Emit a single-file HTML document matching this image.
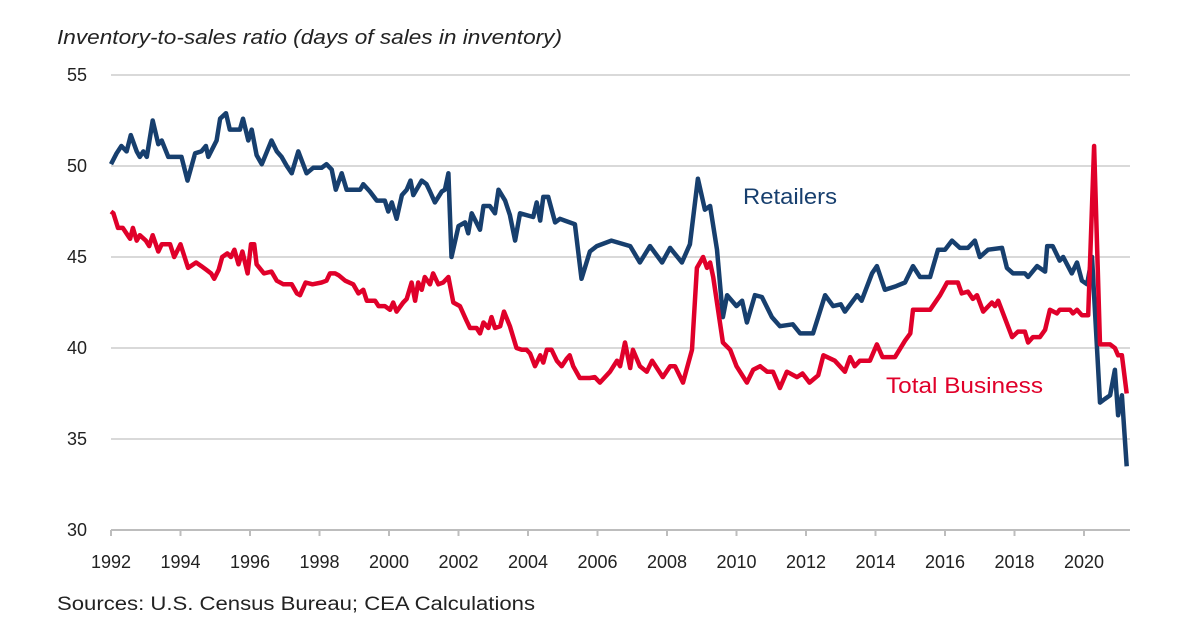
<!DOCTYPE html>
<html><head><meta charset="utf-8"><style>
body{margin:0;background:#fff;}
svg{display:block;font-family:"Liberation Sans",sans-serif;}
</style></head><body>
<svg id="chart" width="1202" height="632" viewBox="0 0 1202 632">
<text x="57" y="44" font-size="20" font-style="italic" fill="#222" textLength="505" lengthAdjust="spacingAndGlyphs">Inventory-to-sales ratio (days of sales in inventory)</text>
<g id="grid"></g>
<g id="yticks"></g>
<g id="xticks"></g>
<g id="series"></g>
<text x="743" y="204" font-size="22" fill="#173f6e" textLength="94" lengthAdjust="spacingAndGlyphs">Retailers</text>
<text x="886" y="393" font-size="22" fill="#e0002a" textLength="157" lengthAdjust="spacingAndGlyphs">Total Business</text>
<text x="57" y="610" font-size="19" fill="#222" textLength="478" lengthAdjust="spacingAndGlyphs">Sources: U.S. Census Bureau; CEA Calculations</text>
</svg>
<script>
const yTicks=[30,35,40,45,50,55];
const xTicks=[1992,1994,1996,1998,2000,2002,2004,2006,2008,2010,2012,2014,2016,2018,2020];
const retailYears=[1992.0,1992.16,1992.3,1992.45,1992.57,1992.74,1992.83,1992.93,1993.03,1993.2,1993.36,1993.46,1993.65,1994.03,1994.2,1994.42,1994.6,1994.73,1994.8,1995.04,1995.14,1995.31,1995.42,1995.71,1995.8,1995.95,1996.05,1996.19,1996.34,1996.62,1996.77,1996.91,1997.06,1997.2,1997.39,1997.63,1997.82,1998.06,1998.2,1998.35,1998.47,1998.64,1998.78,1999.17,1999.26,1999.45,1999.65,1999.88,1999.98,2000.08,2000.22,2000.37,2000.51,2000.62,2000.7,2000.94,2001.08,2001.18,2001.32,2001.52,2001.61,2001.71,2001.8,2002.0,2002.19,2002.28,2002.38,2002.62,2002.72,2002.9,2003.05,2003.15,2003.34,2003.48,2003.63,2003.77,2004.15,2004.25,2004.35,2004.44,2004.58,2004.78,2004.92,2005.06,2005.35,2005.54,2005.78,2005.98,2006.4,2006.94,2007.22,2007.51,2007.86,2008.09,2008.43,2008.66,2008.89,2009.09,2009.24,2009.44,2009.61,2009.73,2010.0,2010.16,2010.3,2010.53,2010.73,2011.02,2011.25,2011.62,2011.83,2012.2,2012.55,2012.78,2013.0,2013.12,2013.47,2013.6,2013.9,2014.04,2014.27,2014.6,2014.85,2015.08,2015.28,2015.57,2015.8,2016.0,2016.2,2016.43,2016.66,2016.86,2017.0,2017.24,2017.64,2017.78,2017.96,2018.3,2018.39,2018.65,2018.88,2018.94,2019.1,2019.3,2019.4,2019.65,2019.8,2019.94,2020.09,2020.23,2020.46,2020.6,2020.75,2020.89,2020.98,2021.09,2021.23];
const retailVals=[50.1,50.7,51.1,50.8,51.7,50.8,50.5,50.8,50.5,52.5,51.2,51.4,50.5,50.5,49.2,50.7,50.8,51.1,50.5,51.4,52.6,52.9,52.0,52.0,52.6,51.4,52.0,50.6,50.1,51.4,50.8,50.5,50.0,49.6,50.8,49.6,49.9,49.9,50.1,49.8,48.7,49.6,48.7,48.7,49.0,48.6,48.1,48.1,47.5,48.0,47.1,48.4,48.7,49.2,48.4,49.2,49.0,48.6,48.0,48.6,48.7,49.6,45.0,46.7,46.9,46.3,47.4,46.5,47.8,47.8,47.4,48.7,48.1,47.3,45.9,47.4,47.2,48.0,47.0,48.3,48.3,46.9,47.1,47.0,46.8,43.8,45.3,45.6,45.9,45.6,44.7,45.6,44.7,45.5,44.7,45.7,49.3,47.6,47.8,45.4,41.7,42.9,42.3,42.6,41.4,42.9,42.8,41.7,41.2,41.3,40.8,40.8,42.9,42.3,42.4,42.0,42.9,42.6,44.1,44.5,43.2,43.4,43.6,44.5,43.9,43.9,45.4,45.4,45.9,45.5,45.5,45.9,45.0,45.4,45.5,44.4,44.1,44.1,43.9,44.5,44.2,45.6,45.6,44.8,45.0,44.1,44.7,43.7,43.5,45.0,37.0,37.2,37.4,38.8,36.3,37.4,33.5];
const totalYears=[1992.0,1992.07,1992.2,1992.34,1992.55,1992.63,1992.74,1992.83,1993.0,1993.1,1993.2,1993.36,1993.46,1993.7,1993.82,1994.0,1994.22,1994.45,1994.6,1994.74,1994.88,1994.97,1995.1,1995.2,1995.35,1995.45,1995.55,1995.67,1995.78,1995.93,1996.03,1996.12,1996.19,1996.4,1996.62,1996.77,1996.96,1997.2,1997.35,1997.44,1997.6,1997.8,1998.06,1998.2,1998.3,1998.45,1998.55,1998.74,1998.97,1999.12,1999.26,1999.36,1999.6,1999.7,1999.88,2000.03,2000.12,2000.22,2000.41,2000.51,2000.65,2000.75,2000.84,2000.94,2001.03,2001.18,2001.27,2001.42,2001.56,2001.71,2001.85,2002.04,2002.23,2002.33,2002.52,2002.62,2002.72,2002.86,2002.95,2003.05,2003.2,2003.31,2003.48,2003.67,2003.82,2003.96,2004.06,2004.2,2004.35,2004.44,2004.54,2004.68,2004.83,2004.97,2005.11,2005.2,2005.3,2005.49,2005.78,2005.92,2006.07,2006.36,2006.56,2006.65,2006.79,2006.94,2007.02,2007.22,2007.42,2007.57,2007.88,2008.09,2008.23,2008.46,2008.72,2008.86,2009.04,2009.15,2009.24,2009.33,2009.61,2009.82,2010.0,2010.3,2010.48,2010.68,2010.88,2011.05,2011.25,2011.45,2011.74,2011.9,2012.1,2012.35,2012.5,2012.83,2013.12,2013.27,2013.4,2013.55,2013.84,2014.04,2014.2,2014.56,2014.85,2015.0,2015.08,2015.57,2015.86,2016.06,2016.37,2016.48,2016.66,2016.8,2016.92,2017.1,2017.35,2017.44,2017.53,2017.93,2018.1,2018.3,2018.39,2018.53,2018.73,2018.88,2019.02,2019.22,2019.3,2019.6,2019.68,2019.8,2019.94,2020.12,2020.29,2020.46,2020.6,2020.75,2020.89,2020.98,2021.09,2021.23];
const totalVals=[47.5,47.4,46.6,46.6,46.0,46.6,45.9,46.2,45.9,45.6,46.2,45.3,45.7,45.7,45.0,45.7,44.4,44.7,44.5,44.3,44.1,43.8,44.3,45.0,45.2,45.0,45.4,44.6,45.3,44.1,45.7,45.7,44.6,44.1,44.2,43.7,43.5,43.5,43.0,42.9,43.6,43.5,43.6,43.7,44.1,44.1,44.0,43.7,43.5,43.0,43.2,42.6,42.6,42.3,42.3,42.1,42.5,42.0,42.5,42.7,43.6,42.6,43.6,43.2,43.9,43.5,44.1,43.5,43.6,43.9,42.5,42.3,41.5,41.1,41.1,40.8,41.4,41.1,41.7,41.1,41.2,42.0,41.2,40.0,39.9,39.9,39.7,39.0,39.6,39.2,39.9,39.9,39.3,39.0,39.4,39.6,39.0,38.35,38.35,38.4,38.1,38.7,39.3,39.0,40.3,38.9,39.9,39.0,38.7,39.3,38.4,39.0,39.0,38.1,39.9,44.4,45.0,44.4,44.7,43.9,40.3,39.9,39.0,38.1,38.8,39.0,38.7,38.7,37.8,38.7,38.4,38.6,38.1,38.5,39.6,39.3,38.7,39.5,39.0,39.3,39.3,40.2,39.5,39.5,40.4,40.8,42.1,42.1,42.9,43.6,43.6,43.0,43.1,42.7,42.9,42.0,42.5,42.3,42.6,40.6,40.9,40.9,40.3,40.6,40.6,41.0,42.1,41.9,42.1,42.1,41.9,42.1,41.8,41.8,51.1,40.2,40.2,40.2,40.0,39.6,39.6,37.5];

const X0=111,X1=1084,Y0=530,Y1=75;
const xs=y=>X0+(y-1992)*(X1-X0)/28;
const ys=v=>Y0-(v-30)*(Y0-Y1)/25;
const NS="http://www.w3.org/2000/svg";
const grid=document.getElementById('grid'),yt=document.getElementById('yticks'),xt=document.getElementById('xticks'),ser=document.getElementById('series');
for(const t of yTicks){
  const l=document.createElementNS(NS,'line');
  l.setAttribute('x1',X0);l.setAttribute('x2',1130);l.setAttribute('y1',ys(t));l.setAttribute('y2',ys(t));
  l.setAttribute('stroke',t===30?'#bdbdbd':'#d9d9d9');l.setAttribute('stroke-width',2);
  
  
  grid.appendChild(l);
  const tx=document.createElementNS(NS,'text');
  tx.setAttribute('x',87);tx.setAttribute('y',ys(t)+6);tx.setAttribute('text-anchor','end');tx.setAttribute('font-size','18');tx.setAttribute('fill','#222');
  tx.textContent=t;
  
  
  yt.appendChild(tx);
}
for(const t of xTicks){
  const tk=document.createElementNS(NS,'line');
  tk.setAttribute('x1',xs(t));tk.setAttribute('x2',xs(t));tk.setAttribute('y1',Y0);tk.setAttribute('y2',Y0+6);tk.setAttribute('stroke','#bdbdbd');tk.setAttribute('stroke-width',2);
  
  
  xt.appendChild(tk);
  const tx=document.createElementNS(NS,'text');
  tx.setAttribute('x',xs(t));tx.setAttribute('y',568);tx.setAttribute('text-anchor','middle');tx.setAttribute('font-size','18');tx.setAttribute('fill','#222');
  tx.textContent=t;
  
  
  xt.appendChild(tx);
}
function line(years,vals,color,name){
  const p=document.createElementNS(NS,'path');
  p.setAttribute('d',years.map((y,i)=>(i?'L':'M')+xs(y).toFixed(1)+','+ys(vals[i]).toFixed(1)).join(''));
  p.setAttribute('fill','none');p.setAttribute('stroke',color);p.setAttribute('stroke-width',4.5);p.setAttribute('stroke-linejoin','round');
  
  
  ser.appendChild(p);
}
line(retailYears,retailVals,'#173f6e','retailers-line');
line(totalYears,totalVals,'#e0002a','total-business-line');
</script>
</body></html>
